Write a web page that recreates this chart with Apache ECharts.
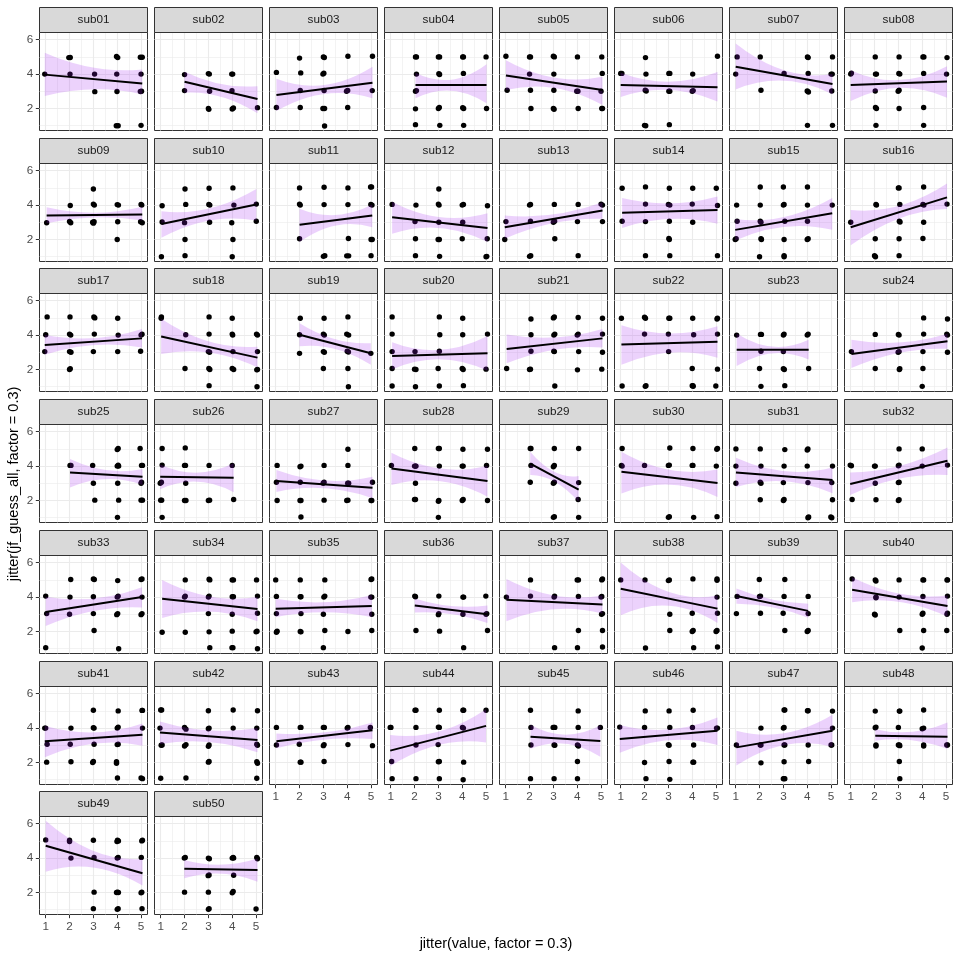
<!DOCTYPE html>
<html>
<head>
<meta charset="utf-8">
<script src="https://cdn.jsdelivr.net/npm/echarts@6/dist/echarts.min.js"></script>
<style>html,body{margin:0;padding:0;background:#fff}#chart{width:960px;height:960px}</style>
</head>
<body>
<div id="chart"></div>
<script>
// ---------------- DATA ----------------
const subjects = ['sub01','sub02','sub03','sub04','sub05','sub06','sub07','sub08','sub09','sub10',
  'sub11','sub12','sub13','sub14','sub15','sub16','sub17','sub18','sub19','sub20',
  'sub21','sub22','sub23','sub24','sub25','sub26','sub27','sub28','sub29','sub30',
  'sub31','sub32','sub33','sub34','sub35','sub36','sub37','sub38','sub39','sub40',
  'sub41','sub42','sub43','sub44','sub45','sub46','sub47','sub48','sub49','sub50'];

const xTicks = [1, 2, 3, 4, 5];
const yTicks = [2, 4, 6];
const xMinor = [1.5, 2.5, 3.5, 4.5];
const yMinor = [1, 3, 5];
const xTitle = 'jitter(value, factor = 0.3)';
const yTitle = 'jitter(jf_guess_all, factor = 0.3)';

const s01 = [[0.96,4.0],[1.97,4.96],[2.03,4.97],[2.02,4.0],[3.05,4.0],[3.06,2.98],[3.97,5.02],[4.02,4.96],[3.98,4.0],[3.99,2.99],[3.96,1.0],[4.04,1.0],[4.97,4.98],[5.05,4.98],[5.0,4.0],[5.02,3.0],[4.97,2.99],[5.0,1.02]];
const s02 = [[2.0,3.97],[2.0,3.04],[3.0,4.03],[3.04,4.0],[3.05,3.0],[3.0,2.0],[3.02,1.95],[4.02,4.0],[3.98,4.0],[3.99,3.03],[4.0,1.97],[4.05,2.03],[5.06,2.05]];
const s03 = [[1.03,4.1],[1.03,2.06],[2.0,4.93],[2.05,4.07],[2.03,3.05],[2.03,2.06],[3.0,5.0],[3.04,4.97],[3.02,4.05],[2.98,4.0],[3.03,3.05],[2.98,2.0],[3.05,2.0],[3.05,0.98],[4.03,5.04],[3.97,3.0],[4.02,3.05],[4.02,2.06],[5.06,5.04],[5.05,3.04]];
const s04 = [[2.04,5.0],[2.08,5.0],[2.08,4.0],[2.08,3.04],[2.04,3.0],[2.04,1.98],[2.04,1.06],[3.0,5.0],[3.05,5.0],[3.02,4.02],[3.05,3.98],[3.04,2.06],[3.0,2.0],[3.06,1.02],[4.02,5.0],[4.05,5.0],[4.05,4.04],[4.02,2.04],[4.06,2.0],[4.06,1.02],[5.0,5.0],[5.02,2.0]];
const s05 = [[1.01,5.04],[1.06,3.06],[2.04,5.0],[2.0,5.0],[2.0,4.0],[2.04,3.06],[2.06,2.0],[3.0,5.04],[3.04,5.0],[3.02,4.0],[3.02,3.06],[3.0,2.0],[3.03,1.96],[4.01,5.0],[3.98,3.0],[4.03,3.0],[4.04,2.0],[5.03,5.0],[5.05,4.04],[5.0,3.0],[5.03,2.0],[5.06,2.0]];
const s06 = [[1.0,4.04],[1.05,4.04],[2.04,4.96],[2.06,4.0],[2.03,3.06],[2.07,3.02],[2.0,1.02],[2.05,1.0],[3.02,4.04],[3.06,4.04],[3.02,3.0],[3.06,3.0],[3.04,1.06],[4.02,4.0],[4.0,3.0],[4.04,3.04],[5.06,5.04]];
const s07 = [[1.06,5.0],[1.0,4.0],[2.03,5.0],[2.06,3.06],[3.03,4.04],[4.01,5.0],[4.04,4.96],[4.04,4.04],[4.0,3.02],[4.05,2.96],[4.01,1.02],[5.06,5.0],[5.0,4.0],[5.05,4.0],[5.03,3.02],[5.06,1.02]];
const s08 = [[1.03,4.06],[1.0,4.0],[2.03,5.0],[2.04,4.0],[2.08,4.0],[2.03,3.02],[2.04,2.06],[2.08,2.0],[2.06,1.02],[3.03,5.0],[3.02,4.04],[3.06,4.0],[3.03,3.06],[2.99,3.0],[3.03,2.0],[4.03,5.0],[4.07,5.0],[4.06,4.04],[4.06,2.06],[4.06,1.02],[5.04,4.96],[5.02,4.0]];
const s09 = [[1.04,2.97],[2.03,3.98],[2.0,3.05],[2.05,2.97],[3.0,4.94],[3.0,4.06],[3.04,4.0],[2.97,3.0],[3.03,3.03],[3.0,2.95],[4.0,4.03],[4.05,4.0],[4.02,3.03],[4.0,2.0],[5.0,4.04],[5.03,4.0],[4.98,3.03],[5.05,2.97]];
const s10 = [[1.06,3.96],[1.06,3.02],[1.03,1.0],[2.02,4.94],[2.05,4.04],[2.0,2.98],[2.02,2.0],[2.02,1.06],[3.03,4.98],[3.02,4.04],[3.06,4.0],[3.05,3.0],[4.03,5.0],[4.07,4.0],[3.98,2.97],[4.03,2.0],[4.0,1.0],[5.01,4.06],[5.01,3.06]];
const s11 = [[2.0,5.0],[2.0,4.06],[2.03,4.0],[2.0,2.04],[3.03,5.04],[3.03,4.03],[3.0,1.02],[3.06,1.06],[4.03,5.0],[4.03,4.03],[4.05,2.06],[3.98,1.05],[4.06,1.05],[5.02,5.06],[4.98,5.05],[4.99,4.04],[5.04,4.0],[5.0,2.0],[5.05,2.0],[5.0,1.06]];
const s12 = [[1.06,4.04],[2.06,4.0],[2.02,3.04],[2.04,2.04],[2.04,1.06],[3.02,4.94],[3.0,4.06],[3.03,4.0],[3.02,3.0],[2.99,2.0],[3.04,2.0],[3.05,1.02],[4.05,4.04],[4.0,4.0],[4.02,3.0],[4.0,2.04],[5.06,3.96],[5.05,2.04],[5.03,1.02],[5.0,1.0]];
const s13 = [[1.01,3.04],[0.96,2.0],[2.04,4.04],[2.0,4.0],[2.04,3.06],[2.0,1.02],[2.05,1.06],[3.04,4.04],[3.0,3.0],[3.05,3.06],[3.06,2.04],[4.04,4.04],[4.01,3.04],[4.04,1.06],[5.0,4.06],[5.06,4.0],[5.06,3.04]];
const s14 = [[1.06,4.98],[1.06,3.06],[2.04,5.06],[2.04,4.06],[2.04,3.04],[2.04,1.06],[3.04,4.98],[3.0,4.04],[3.06,4.0],[3.04,3.06],[3.02,2.06],[3.04,2.0],[3.06,1.06],[4.02,4.98],[4.0,4.06],[4.02,3.0],[5.01,4.98],[5.06,3.98],[5.06,1.06]];
const s15 = [[1.04,4.0],[1.06,3.06],[1.02,2.04],[0.98,2.0],[2.03,5.05],[2.03,4.0],[2.03,3.06],[2.06,3.0],[2.06,2.04],[2.08,2.0],[2.0,1.0],[3.0,5.05],[3.03,4.04],[3.0,4.0],[3.06,3.06],[3.03,2.0],[3.03,1.06],[3.03,1.0],[4.01,5.05],[4.01,4.0],[4.01,3.06],[4.04,2.04],[4.0,2.0],[5.05,4.0]];
const s16 = [[1.0,3.0],[2.06,4.04],[2.08,4.0],[2.03,2.04],[2.0,1.06],[2.04,1.0],[3.03,5.0],[3.0,5.0],[3.06,4.04],[3.04,3.06],[3.07,3.02],[3.03,2.04],[3.03,1.06],[4.06,5.05],[4.03,4.04],[4.07,4.0],[4.06,3.0],[4.03,2.06],[5.04,4.06]];
const s17 = [[1.06,5.06],[1.0,4.02],[0.96,3.04],[2.02,5.06],[2.0,4.06],[2.05,4.0],[2.0,3.04],[2.06,3.0],[2.03,2.04],[2.0,2.0],[3.02,5.06],[3.06,5.0],[3.04,4.06],[3.0,3.04],[4.02,4.98],[4.04,4.0],[4.02,3.04],[5.0,4.0],[5.04,4.05],[4.98,3.06]];
const s18 = [[1.03,5.06],[1.02,4.98],[2.05,4.02],[2.02,2.06],[3.03,5.06],[3.03,4.06],[3.0,3.04],[3.05,3.0],[3.02,2.06],[3.06,2.0],[3.03,1.06],[4.0,4.98],[4.0,4.06],[4.02,4.0],[4.03,3.04],[4.0,2.06],[4.06,2.0],[5.02,4.06],[5.06,4.0],[5.06,3.04],[5.03,1.98],[5.06,2.0],[5.04,1.0]];
const s19 = [[2.03,4.98],[2.0,4.02],[2.0,2.94],[3.03,4.98],[3.0,4.06],[3.04,4.0],[3.0,3.04],[3.04,3.0],[3.0,2.06],[4.03,5.06],[3.98,4.06],[4.06,4.0],[4.0,3.06],[4.05,3.02],[4.03,2.06],[4.05,1.0],[4.99,2.94]];
const s20 = [[1.06,5.06],[1.06,4.06],[1.06,3.04],[1.06,2.06],[1.06,1.04],[2.02,3.04],[2.0,2.02],[2.06,2.0],[2.04,1.0],[3.04,5.06],[3.06,4.02],[3.04,3.06],[2.99,2.06],[3.04,1.04],[4.02,4.98],[4.02,4.02],[4.0,2.06],[4.04,2.0],[4.05,1.06],[5.06,4.06],[5.0,2.02]];
const s21 = [[1.04,2.06],[2.06,4.94],[2.06,4.02],[2.06,3.06],[2.04,2.02],[2.0,2.0],[3.04,5.06],[3.0,5.0],[3.06,4.06],[3.02,4.0],[3.04,3.04],[3.02,3.06],[3.06,1.04],[4.04,5.02],[4.04,4.06],[4.0,4.0],[4.06,3.04],[4.01,1.98],[5.06,4.98],[5.06,4.06],[5.06,3.0],[5.03,2.02]];
const s22 = [[1.03,4.98],[1.06,1.04],[2.04,4.98],[2.0,5.04],[2.0,4.06],[2.06,1.06],[2.03,1.02],[3.02,4.98],[3.06,4.98],[3.0,4.06],[3.01,3.04],[4.02,4.98],[4.06,4.02],[4.0,2.06],[4.0,1.06],[4.04,1.02],[4.03,1.06],[5.06,4.98],[5.04,4.94],[5.06,4.06],[5.06,2.02],[4.99,1.04]];
const s23 = [[1.04,4.0],[2.04,4.04],[2.08,4.04],[2.06,3.06],[2.0,2.06],[2.06,1.02],[3.03,4.06],[3.0,4.0],[3.0,3.04],[3.0,2.04],[3.04,2.0],[3.06,1.06],[4.04,4.06],[4.0,4.0],[4.06,2.06]];
const s24 = [[1.03,3.04],[2.03,4.04],[2.03,2.06],[3.03,4.0],[3.0,4.04],[3.03,3.04],[2.99,3.0],[3.06,2.04],[3.04,2.0],[4.06,5.0],[4.06,4.06],[4.03,3.04],[4.03,2.06],[4.0,1.02],[5.06,4.94],[5.06,4.0],[5.03,4.06],[5.06,3.0]];
const s25 = [[2.02,4.04],[2.06,4.04],[2.97,4.04],[3.0,3.0],[3.06,2.02],[4.04,5.02],[4.0,4.96],[4.04,4.06],[4.0,4.0],[4.06,4.0],[4.02,3.0],[4.06,2.02],[4.01,1.02],[4.96,5.02],[5.06,4.04],[5.02,4.04],[5.02,3.06],[5.0,3.0],[5.06,2.02],[5.0,2.02]];
const s26 = [[1.06,5.02],[1.06,4.06],[1.03,3.06],[0.98,3.0],[1.0,2.02],[1.04,2.02],[1.06,1.02],[2.03,5.06],[2.0,4.04],[2.04,4.04],[2.05,3.0],[2.0,2.0],[2.06,2.0],[3.03,4.04],[3.0,2.0],[3.05,2.02],[4.0,4.04],[4.06,2.06]];
const s27 = [[1.06,4.04],[1.03,3.06],[1.06,2.0],[2.06,4.0],[2.02,3.96],[2.03,3.06],[2.06,2.0],[2.02,2.0],[2.06,1.04],[3.03,4.04],[3.03,3.06],[2.99,3.0],[3.03,2.02],[4.03,4.98],[4.03,4.04],[4.06,3.0],[4.02,3.0],[4.03,2.02],[3.98,2.0],[5.06,3.06],[5.03,2.0],[5.0,2.0]];
const s28 = [[1.03,4.04],[2.01,5.02],[2.04,4.0],[2.06,4.0],[2.0,4.0],[2.04,3.0],[2.04,2.06],[2.0,2.06],[3.04,5.02],[3.0,5.02],[3.04,4.0],[3.02,2.0],[3.0,1.96],[3.0,1.02],[4.03,4.98],[4.04,4.0],[4.0,4.0],[4.04,2.06],[4.0,2.0],[5.06,4.98],[5.02,4.04],[5.06,2.0]];
const s29 = [[2.03,5.02],[2.06,5.02],[2.06,4.04],[2.03,3.06],[3.04,5.02],[3.04,4.04],[3.0,3.96],[3.04,3.06],[3.0,3.0],[3.04,1.06],[3.0,1.02],[4.06,5.02],[4.06,3.04],[4.04,2.06],[4.06,1.02]];
const s30 = [[1.06,5.02],[1.03,4.04],[1.06,4.0],[2.0,4.04],[3.06,5.05],[3.04,4.06],[3.0,4.04],[3.04,1.06],[3.0,1.02],[4.03,5.02],[4.03,4.04],[4.0,4.04],[4.06,1.02],[5.06,5.02],[5.03,4.98],[5.01,4.0],[5.04,1.06]];
const s31 = [[1.01,5.0],[1.01,4.0],[1.01,3.0],[2.03,5.0],[2.06,4.0],[2.03,3.06],[2.06,3.0],[2.03,2.04],[3.06,4.96],[3.03,4.0],[3.0,3.04],[3.03,2.06],[3.0,2.0],[4.03,5.0],[4.0,4.94],[4.0,4.0],[4.03,3.04],[4.06,1.04],[4.03,1.0],[5.06,4.0],[5.03,3.04],[5.06,2.04],[4.99,1.04],[5.03,1.0]];
const s32 = [[0.98,4.06],[1.03,4.02],[1.06,2.06],[2.03,4.0],[2.0,4.0],[2.03,3.0],[2.06,2.04],[3.03,5.0],[3.03,4.06],[3.0,4.02],[3.0,3.04],[3.03,3.06],[3.03,2.04],[3.0,2.0],[4.0,5.0],[4.0,4.0],[5.06,4.06]];
const s33 = [[1.0,4.06],[1.04,3.04],[1.0,1.06],[2.05,5.02],[2.02,4.0],[2.0,3.0],[3.0,5.06],[3.04,5.02],[3.0,4.02],[3.0,3.04],[3.03,2.06],[4.02,4.96],[4.04,4.06],[4.0,4.0],[4.02,3.04],[3.98,2.98],[4.06,1.0],[5.04,5.06],[5.0,5.02],[5.04,4.0],[5.04,3.04],[5.0,2.98]];
const s34 = [[1.06,1.96],[2.03,5.0],[2.03,4.06],[2.0,4.0],[2.03,1.96],[3.03,5.04],[3.06,5.0],[3.03,4.06],[3.0,4.0],[3.0,3.04],[3.03,1.98],[3.06,1.06],[4.0,5.0],[4.05,5.0],[4.0,4.02],[4.05,4.02],[4.0,3.0],[4.0,2.02],[4.03,1.06],[3.99,1.06],[5.02,5.0],[5.06,4.06],[5.06,3.06],[5.04,2.02],[5.0,1.98],[5.06,1.0]];
const s35 = [[1.0,5.0],[1.03,4.04],[1.03,3.04],[1.06,2.02],[1.03,1.96],[2.03,5.0],[2.03,4.02],[2.06,4.02],[2.06,3.04],[2.03,2.0],[2.06,1.98],[3.06,5.0],[3.06,4.06],[3.02,4.0],[3.0,3.0],[3.06,2.06],[3.0,1.06],[4.03,2.0],[5.03,5.06],[5.0,5.02],[5.03,4.0],[4.99,4.0],[5.03,3.0],[5.03,2.06]];
const s36 = [[2.01,4.06],[2.04,4.02],[2.06,2.06],[3.02,4.06],[3.02,3.04],[3.0,2.98],[3.05,2.02],[4.03,4.0],[4.06,4.0],[4.03,3.0],[4.06,1.06],[4.99,4.06],[5.03,3.04],[5.0,3.0],[5.06,2.06]];
const s37 = [[1.03,4.0],[2.04,5.0],[2.04,4.06],[3.05,4.06],[3.03,4.0],[3.05,1.06],[4.05,5.0],[4.0,5.0],[4.05,4.04],[4.05,2.06],[4.01,1.06],[5.06,5.06],[5.03,5.0],[5.03,4.04],[5.0,4.0],[5.06,3.04],[5.02,3.0],[5.06,2.06],[5.06,1.1]];
const s38 = [[1.0,5.0],[2.02,5.0],[2.04,1.04],[3.04,5.0],[3.0,4.96],[3.06,3.0],[3.06,2.06],[4.03,5.06],[4.0,3.06],[4.04,2.06],[4.0,2.0],[4.06,1.06],[5.04,5.06],[5.04,4.98],[5.04,4.0],[5.06,3.06],[5.04,2.06],[5.0,2.0],[5.06,1.1]];
const s39 = [[1.06,4.04],[1.03,3.04],[1.99,5.02],[2.04,4.06],[2.0,4.04],[2.04,3.06],[3.06,5.02],[3.03,4.04],[2.99,3.06],[3.06,2.06],[4.04,4.04],[4.04,3.04],[4.04,2.06],[4.0,2.0]];
const s40 = [[1.06,5.06],[2.03,5.0],[2.06,4.94],[2.06,4.0],[2.06,3.96],[2.03,2.96],[2.0,3.0],[3.03,5.0],[3.03,4.0],[3.06,2.06],[4.06,5.0],[4.03,5.0],[4.03,4.04],[4.03,3.06],[4.0,3.0],[4.06,2.06],[4.0,1.04],[5.06,5.0],[5.04,5.0],[5.06,4.06],[5.06,3.06],[5.04,3.0],[5.03,2.06]];
const s41 = [[1.0,4.0],[0.96,4.0],[1.06,3.06],[1.04,2.02],[2.06,4.0],[2.03,3.06],[2.06,2.04],[3.0,5.04],[3.0,4.02],[3.03,4.0],[3.03,3.06],[3.0,2.06],[2.97,2.0],[4.04,5.0],[4.04,4.06],[4.0,4.0],[4.04,3.06],[4.0,3.04],[3.97,2.04],[3.97,1.96],[4.01,1.1],[5.06,5.03],[5.04,5.03],[5.06,4.0],[5.0,1.1],[5.06,1.06]];
const s42 = [[1.0,5.05],[1.04,5.05],[0.97,4.0],[1.06,3.02],[1.02,3.0],[1.0,1.08],[2.0,4.04],[2.06,3.94],[2.0,2.96],[2.06,3.04],[2.06,1.1],[3.0,5.01],[3.03,4.0],[3.0,3.96],[3.03,3.02],[3.0,2.94],[3.03,2.06],[3.0,2.02],[4.04,5.05],[4.04,4.0],[5.06,5.01],[5.03,4.0],[5.03,3.06],[5.06,3.0],[5.03,2.04],[5.06,1.96],[5.03,1.08]];
const s43 = [[1.03,4.04],[1.03,3.02],[2.03,4.04],[2.06,4.04],[1.99,3.06],[2.06,2.02],[2.03,2.02],[3.0,4.04],[3.04,4.04],[3.03,3.04],[3.0,2.98],[3.03,2.06],[4.03,4.04],[4.0,4.0],[4.03,3.04],[4.97,4.04],[5.06,2.98]];
const s44 = [[1.01,4.04],[0.98,4.04],[1.04,2.06],[1.06,1.06],[2.06,5.04],[2.02,5.04],[2.06,4.04],[2.06,3.02],[2.06,1.06],[3.04,5.04],[3.04,4.04],[3.0,4.06],[2.99,3.04],[3.04,2.06],[3.0,2.04],[3.04,1.06],[4.06,5.04],[4.03,5.04],[4.01,4.04],[4.05,4.0],[4.06,2.02],[4.04,1.0],[5.0,5.04]];
const s45 = [[2.04,5.04],[2.06,4.04],[2.06,3.02],[2.04,1.06],[3.03,4.04],[3.06,4.04],[2.99,4.04],[3.03,3.02],[3.06,3.0],[3.03,1.06],[4.04,5.0],[4.04,4.04],[4.01,3.02],[4.05,2.96],[4.01,2.06],[4.01,1.06],[4.97,4.04]];
const s46 = [[0.96,4.06],[2.03,5.0],[2.0,4.04],[2.0,2.0],[2.06,1.06],[3.03,5.0],[3.06,4.04],[3.0,3.04],[3.03,3.0],[3.03,2.06],[3.06,1.02],[4.04,5.04],[4.01,4.04],[4.06,3.02],[4.06,2.02],[4.03,2.02],[5.06,4.0],[5.02,4.0]];
const s47 = [[1.03,3.02],[2.06,4.0],[2.06,1.98],[2.03,3.02],[2.06,3.02],[3.03,5.05],[3.06,5.05],[3.03,4.04],[3.0,4.0],[3.06,3.02],[3.03,3.02],[3.03,2.04],[3.03,1.06],[3.06,1.06],[3.0,1.06],[4.01,5.01],[4.04,5.01],[4.04,3.02],[4.06,2.06],[5.06,4.99],[5.06,4.0],[5.03,3.02],[5.0,3.02]];
const s48 = [[2.03,4.99],[2.06,4.06],[2.03,4.02],[2.06,3.02],[2.06,2.96],[3.04,4.99],[3.06,4.99],[3.0,4.04],[3.04,3.02],[3.06,2.98],[3.0,3.02],[3.04,2.06],[3.06,1.06],[4.06,5.05],[4.06,4.0],[4.0,3.96],[4.06,3.02],[4.06,2.96],[5.06,3.02],[5.03,3.02]];
const s49 = [[1.0,5.06],[2.0,5.04],[2.0,4.96],[2.06,4.0],[3.0,5.04],[3.03,4.04],[3.03,2.02],[3.0,1.06],[4.01,5.04],[4.05,5.0],[3.99,4.96],[4.04,4.04],[4.0,4.0],[4.01,2.02],[3.97,2.0],[4.05,2.0],[4.04,1.06],[4.0,1.02],[5.06,5.04],[5.03,5.0],[5.01,4.04],[5.03,2.02],[5.0,1.98],[5.04,1.06]];
const s50 = [[2.03,4.04],[1.99,4.0],[2.0,2.02],[3.0,4.0],[3.04,3.96],[3.03,3.02],[2.99,2.98],[3.0,2.02],[3.03,1.06],[3.0,1.02],[4.04,4.04],[4.0,4.0],[4.06,4.0],[4.06,3.0],[4.04,2.06],[4.0,1.98],[5.03,4.04],[5.06,3.96],[5.0,1.04]];

const pointSets = [s01,s02,s03,s04,s05,s06,s07,s08,s09,s10,s11,s12,s13,s14,s15,s16,s17,s18,s19,s20,
  s21,s22,s23,s24,s25,s26,s27,s28,s29,s30,s31,s32,s33,s34,s35,s36,s37,s38,s39,s40,
  s41,s42,s43,s44,s45,s46,s47,s48,s49,s50];

// fitted line end points (lm smooth)
const fitX0 = [0.96,2.0,1.03,2.04,1.01,1.0,1.0,1.0,1.04,1.03, 2.0,1.06,0.96,1.06,0.98,1.0,0.96,1.02,2.0,1.06,
  1.04,1.03,1.04,1.03,2.02,0.98,1.03,1.03,2.03,1.03, 1.01,0.98,1.0,1.06,1.0,2.01,1.03,1.0,1.03,1.06,
  0.96,0.97,1.03,0.98,2.04,0.96,1.03,2.03,1.0,1.99];
const fitX1 = [5.05,5.06,5.06,5.02,5.06,5.06,5.06,5.04,5.05,5.01, 5.05,5.06,5.06,5.06,5.05,5.04,5.04,5.06,4.99,5.06,
  5.06,5.06,4.06,5.06,5.06,4.06,5.06,5.06,4.06,5.06, 5.06,5.06,5.04,5.06,5.03,5.06,5.06,5.06,4.04,5.06,
  5.06,5.06,5.06,5.0,4.97,5.06,5.06,5.06,5.06,5.06];
const fitY0 = [3.97,3.56,2.78,3.36,3.92,3.36,4.43,3.36,3.39,2.9, 2.86,3.29,2.71,3.56,2.56,2.71,3.43,3.92,4.02,2.79,
  3.19,3.46,3.15,2.9,3.63,3.38,3.13,3.86,4.15,3.67, 3.63,2.96,3.13,3.9,3.33,3.51,3.84,4.48,4.06,4.43,
  3.23,3.75,3.23,2.69,3.5,3.37,2.88,3.56,4.72,3.38];
const fitY1 = [3.46,2.55,3.5,3.36,3.07,3.23,3.42,3.57,3.46,4.03, 3.39,2.67,3.68,3.72,3.52,4.45,3.81,2.69,2.94,2.94,
  3.81,3.62,3.15,3.64,3.38,3.33,2.74,3.13,2.63,3.02, 3.19,4.31,4.0,3.31,3.48,3.0,3.57,3.33,3.2,3.48,
  3.61,3.31,3.88,4.13,3.25,3.85,3.85,3.5,3.12,3.31];

// confidence band (lower / upper) at the start, middle and end of each fit
const bandLo0 = [2.72,2.92,1.85,2.59,3.07,2.67,3.11,2.43,2.94,2.1, 1.85,2.33,2.05,2.67,1.94,1.66,2.86,2.9,3.35,2.0,
  2.36,2.27,2.2,2.08,2.75,2.66,2.5,2.9,3.48,2.41, 2.78,2.32,2.32,2.79,2.84,3.1,2.59,2.94,3.62,3.7,
  2.3,3.08,2.83,1.79,2.8,2.56,1.82,3.27,3.21,2.83];
const bandHi0 = [5.24,4.14,3.73,4.08,4.81,4.08,5.78,4.23,3.87,3.64, 3.79,4.2,3.4,4.41,3.19,3.72,4.02,4.95,4.69,3.58,
  4.04,4.58,4.1,3.73,4.41,4.1,3.77,4.77,4.83,4.83, 4.48,3.63,4.02,5.0,3.9,3.92,5.06,6.02,4.5,5.16,
  4.13,4.38,3.69,3.6,4.2,4.18,3.85,3.94,6.17,3.89];
const bandLoM = [3.11,2.68,2.85,3.04,3.2,3.08,3.62,3.21,3.29,3.1, 2.82,2.68,2.95,3.19,2.74,3.22,3.42,2.98,3.2,2.59,
  3.14,2.98,2.95,2.97,3.24,3.1,2.72,3.12,3.1,2.92, 3.12,3.26,3.2,3.16,3.12,3.02,3.3,3.5,3.42,3.71,
  3.1,3.2,3.33,3.02,3.1,3.3,3.02,3.3,3.45,3.1];
const bandHiM = [4.37,3.42,3.37,3.68,3.8,3.56,4.22,3.65,3.56,3.8, 3.42,3.3,3.45,4.1,3.3,3.95,3.82,3.62,3.76,3.14,
  3.87,4.1,3.33,3.57,3.76,3.62,3.16,3.86,3.66,3.78, 3.7,4.0,3.92,4.04,3.7,3.48,4.1,4.3,3.86,4.2,
  3.75,3.86,3.75,3.79,3.62,3.92,3.7,3.78,4.4,3.62];
const bandLo1 = [2.82,1.72,2.59,2.3,2.2,2.4,2.83,2.63,3.1,3.1, 2.71,1.85,3.2,2.92,2.56,3.78,3.28,2.12,2.27,1.92,
  3.28,2.69,2.58,3.2,2.9,2.48,2.13,2.22,1.92,2.2, 2.42,3.48,3.4,2.6,2.84,2.5,3.04,2.5,2.8,2.86,
  2.98,2.6,3.37,3.17,2.33,3.02,2.92,2.79,2.4,2.63];
const bandHi1 = [4.27,3.3,4.43,4.58,3.85,4.12,4.0,4.46,3.91,4.94, 4.03,3.53,4.16,4.5,4.41,5.25,4.36,3.33,3.53,3.95,
  4.36,4.52,3.73,4.08,3.83,4.16,3.38,4.0,3.43,3.8, 3.92,5.08,4.58,4.0,4.12,3.51,4.1,4.1,3.62,4.1,
  4.27,4.0,4.33,5.1,4.17,4.62,4.77,4.33,3.95,3.98];

// ---------------- LAYOUT / STYLE ----------------
const NCOL = 8;
const PANEL_LEFT = 39.5, PANEL_W = 108, COL_STEP = 115;
const PANEL_TOP = 32.5, PANEL_H = 98, ROW_STEP = 130.7;
const STRIP_H = 25;
const XMIN = 0.74, XMAX = 5.27, YMIN = 0.72, YMAX = 6.42;
const FONT = "'Liberation Sans', Arial, Helvetica, sans-serif";
const GRID_COL = '#EBEBEB';
const BAND_FILL = 'rgba(160,32,240,0.2)';

const grids = [], xAxes = [], yAxes = [], series = [], graphics = [];
const nPanels = subjects.length;
const lastRow = Math.floor((nPanels - 1) / NCOL);
const lastRowCols = (nPanels - 1) % NCOL;

subjects.forEach((name, i) => {
  const r = Math.floor(i / NCOL), c = i % NCOL;
  const left = PANEL_LEFT + c * COL_STEP;
  const top = PANEL_TOP + Math.round(r * ROW_STEP);
  const showX = (r === lastRow) || (r === lastRow - 1 && c > lastRowCols);
  const showY = (c === 0);

  grids.push({left: left, top: top, width: PANEL_W, height: PANEL_H, show: true,
    backgroundColor: '#FFFFFF', borderColor: '#333333', borderWidth: 1, outerBoundsMode: 'none'});

  xAxes.push({gridIndex: i, type: 'value', min: XMIN, max: XMAX,
    splitLine: {show: false}, minorSplitLine: {show: false}, axisLine: {show: false},
    axisTick: {show: showX, length: 3.7, customValues: xTicks, lineStyle: {color: '#333333', width: 1}},
    axisLabel: {show: showX, customValues: xTicks, margin: 6.2, color: '#4D4D4D', fontSize: 11.7, fontFamily: FONT}});
  yAxes.push({gridIndex: i, type: 'value', min: YMIN, max: YMAX,
    splitLine: {show: false}, minorSplitLine: {show: false}, axisLine: {show: false},
    axisTick: {show: showY, length: 3.7, customValues: yTicks, lineStyle: {color: '#333333', width: 1}},
    axisLabel: {show: showY, customValues: yTicks, margin: 6.2, color: '#4D4D4D', fontSize: 11.7, fontFamily: FONT}});

  // grid lines through the axes' scales
  const gl = [];
  xMinor.forEach(v => gl.push({xAxis: v, lineStyle: {color: GRID_COL, width: 0.6, type: 'solid'}}));
  yMinor.forEach(v => gl.push({yAxis: v, lineStyle: {color: GRID_COL, width: 0.6, type: 'solid'}}));
  xTicks.forEach(v => gl.push({xAxis: v, lineStyle: {color: GRID_COL, width: 1.1, type: 'solid'}}));
  yTicks.forEach(v => gl.push({yAxis: v, lineStyle: {color: GRID_COL, width: 1.1, type: 'solid'}}));
  series.push({type: 'line', xAxisIndex: i, yAxisIndex: i, data: [[XMIN, YMIN]], symbol: 'none',
    lineStyle: {opacity: 0}, silent: true, z: 1,
    markLine: {silent: true, z: 1, symbol: ['none', 'none'], label: {show: false}, emphasis: {disabled: true},
      animation: false, precision: 4, data: gl}});

  // points
  series.push({type: 'scatter', xAxisIndex: i, yAxisIndex: i, data: pointSets[i], symbol: 'circle',
    symbolSize: 5.4, itemStyle: {color: '#000000', opacity: 1}, silent: true, z: 2});

  // confidence band
  const xm = (fitX0[i] + fitX1[i]) / 2;
  series.push({type: 'custom', xAxisIndex: i, yAxisIndex: i, silent: true, z: 3,
    data: [[fitX0[i], xm, fitX1[i], bandLo0[i], bandLoM[i], bandLo1[i], bandHi0[i], bandHiM[i], bandHi1[i]]],
    renderItem: function (params, api) {
      const a = api.value(0), m = api.value(1), b = api.value(2);
      const u0 = api.coord([a, api.value(6)]), um = api.coord([m, api.value(7)]), u1 = api.coord([b, api.value(8)]);
      const l0 = api.coord([a, api.value(3)]), lm = api.coord([m, api.value(4)]), l1 = api.coord([b, api.value(5)]);
      const cu = [2 * um[0] - (u0[0] + u1[0]) / 2, 2 * um[1] - (u0[1] + u1[1]) / 2];
      const cl = [2 * lm[0] - (l0[0] + l1[0]) / 2, 2 * lm[1] - (l0[1] + l1[1]) / 2];
      const f = p => p[0].toFixed(2) + ' ' + p[1].toFixed(2);
      const d = 'M ' + f(u0) + ' Q ' + f(cu) + ' ' + f(u1) + ' L ' + f(l1) + ' Q ' + f(cl) + ' ' + f(l0) + ' Z';
      return {type: 'path', shape: {pathData: d}, style: {fill: BAND_FILL, stroke: null}};
    }});

  // fitted line
  series.push({type: 'line', xAxisIndex: i, yAxisIndex: i, silent: true, z: 4, symbol: 'none',
    data: [[fitX0[i], fitY0[i]], [fitX1[i], fitY1[i]]],
    lineStyle: {color: '#000000', width: 2}});

  // facet strip
  graphics.push({type: 'rect', silent: true, z: 10,
    shape: {x: left, y: top - STRIP_H, width: PANEL_W, height: STRIP_H},
    style: {fill: '#D9D9D9', stroke: '#333333', lineWidth: 1}});
  graphics.push({type: 'text', silent: true, z: 11, x: left + PANEL_W / 2, y: top - STRIP_H / 2,
    style: {text: name, fill: '#1A1A1A', font: '11.7px ' + FONT, align: 'center', verticalAlign: 'middle'}});
});

// axis titles
graphics.push({type: 'text', silent: true, z: 11, x: 496, y: 944,
  style: {text: xTitle, fill: '#000000', font: '14.5px ' + FONT, align: 'center', verticalAlign: 'middle'}});
graphics.push({type: 'text', silent: true, z: 11, x: 14, y: 484, rotation: Math.PI / 2,
  style: {text: yTitle, fill: '#000000', font: '14.5px ' + FONT, align: 'center', verticalAlign: 'middle'}});

const chart = echarts.init(document.getElementById('chart'), null, {renderer: 'canvas', width: 960, height: 960});
chart.setOption({
  animation: false,
  backgroundColor: '#FFFFFF',
  grid: grids,
  xAxis: xAxes,
  yAxis: yAxes,
  series: series,
  graphic: graphics
});
</script>
</body>
</html>
